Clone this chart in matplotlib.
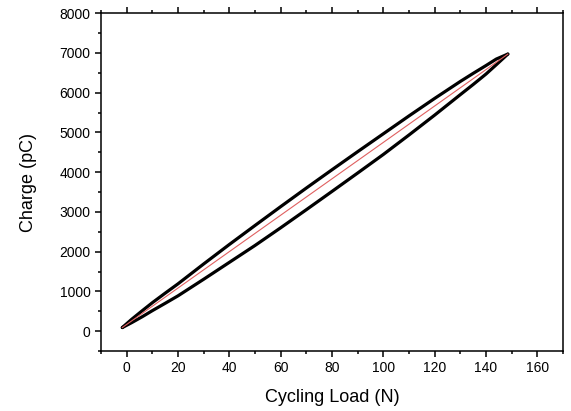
import matplotlib
matplotlib.use("Agg")
import matplotlib.pyplot as plt
from matplotlib.ticker import MultipleLocator

plt.rcParams['font.family'] = ['Liberation Sans', 'DejaVu Sans']

# Data
load = [-1.7, 2, 6, 10, 15, 20, 30, 40, 50, 60, 70, 80, 90, 100, 110, 120,
        130, 135, 140, 144, 148.5]
mean_charge = [90, 255, 430, 610, 820, 1030, 1490, 1950, 2400, 2860, 3320,
               3780, 4240, 4700, 5170, 5640, 6110, 6340, 6570, 6770, 6970]
upper_offset = [0, 45, 80, 105, 135, 160, 200, 230, 258, 272, 280, 280, 275,
                265, 245, 215, 172, 145, 112, 75, 0]
lower_offset = [0, -40, -70, -95, -120, -142, -185, -220, -245, -260, -265,
                -265, -262, -255, -235, -205, -160, -135, -102, -68, 0]

upper = [m + o for m, o in zip(mean_charge, upper_offset)]
lower = [m + o for m, o in zip(mean_charge, lower_offset)]

fig = plt.figure(figsize=(5.71, 4.11), dpi=100)
ax = fig.add_axes([0.1769, 0.146, 0.8091, 0.822])

ax.plot(load, upper, color='black', lw=2.3, solid_capstyle='round',
        solid_joinstyle='round', zorder=2)
ax.plot(load, lower, color='black', lw=2.3, solid_capstyle='round',
        solid_joinstyle='round', zorder=2)
ax.plot([load[0], load[-1]], [mean_charge[0], mean_charge[-1]],
        color='#e06060', lw=0.8, zorder=3)

ax.set_xlim(-10, 170)
ax.set_ylim(-500, 8000)
ax.xaxis.set_major_locator(MultipleLocator(20))
ax.xaxis.set_minor_locator(MultipleLocator(10))
ax.yaxis.set_major_locator(MultipleLocator(1000))
ax.yaxis.set_minor_locator(MultipleLocator(500))

ax.tick_params(which='both', direction='out', width=1.1, top=True, right=False,
               labelsize=10, colors='black')
ax.tick_params(which='major', length=4.5, pad=3)
ax.tick_params(which='minor', length=2.2)
for s in ax.spines.values():
    s.set_linewidth(1.1)

ax.set_xlabel('Cycling Load (N)', fontsize=13, labelpad=10)
ax.set_ylabel('Charge (pC)', fontsize=13, labelpad=16)

fig.savefig('out.png', dpi=100)
